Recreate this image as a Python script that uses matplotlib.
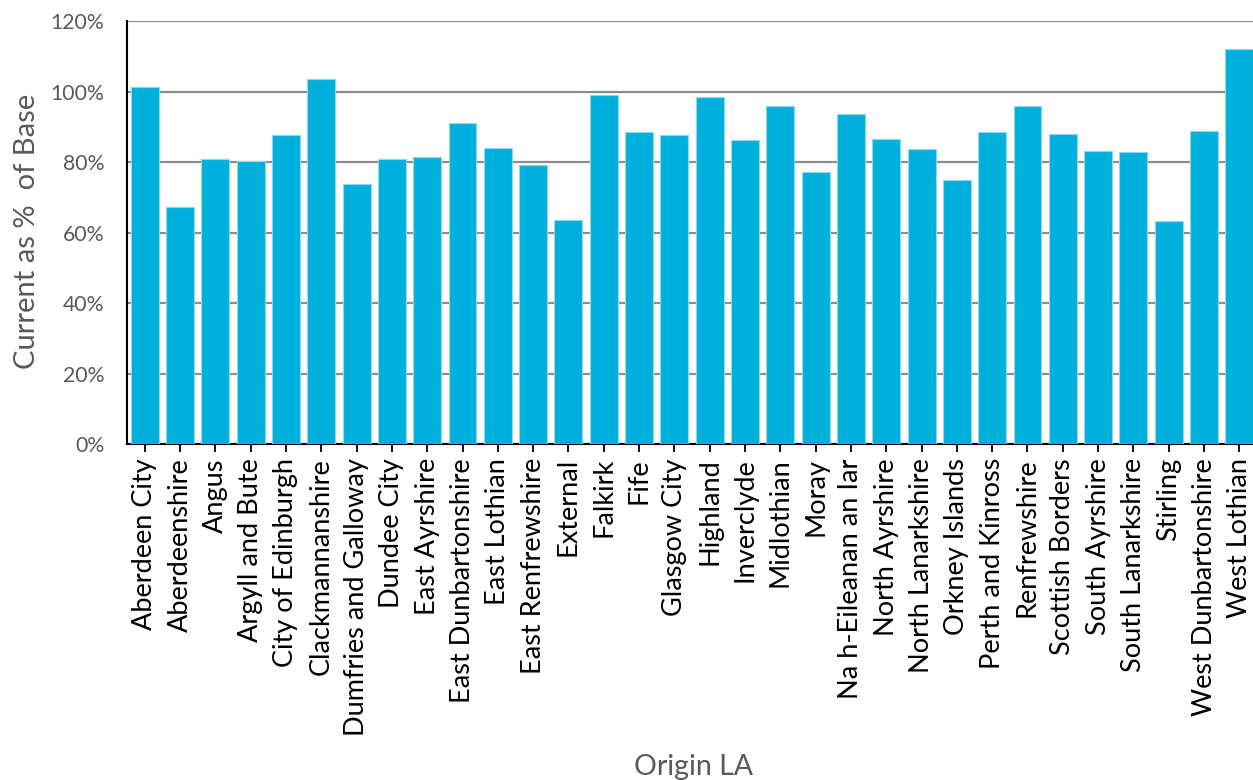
import matplotlib.pyplot as plt
from matplotlib.ticker import PercentFormatter

# Origin local authorities and current volume as % of base
areas = [
    'Aberdeen City', 'Aberdeenshire', 'Angus', 'Argyll and Bute',
    'City of Edinburgh', 'Clackmannanshire', 'Dumfries and Galloway',
    'Dundee City', 'East Ayrshire', 'East Dunbartonshire', 'East Lothian',
    'East Renfrewshire', 'External', 'Falkirk', 'Fife', 'Glasgow City',
    'Highland', 'Inverclyde', 'Midlothian', 'Moray', 'Na h-Eileanan an Iar',
    'North Ayrshire', 'North Lanarkshire', 'Orkney Islands',
    'Perth and Kinross', 'Renfrewshire', 'Scottish Borders', 'South Ayrshire',
    'South Lanarkshire', 'Stirling', 'West Dunbartonshire', 'West Lothian',
]
pct_of_base = [
    101.4, 67.4, 80.9, 80.4, 87.7, 103.6, 73.9, 81.0, 81.5, 91.2, 84.1,
    79.1, 63.6, 98.9, 88.5, 87.7, 98.4, 86.4, 95.8, 77.3, 93.5, 86.6,
    83.6, 74.9, 88.5, 95.9, 88.1, 83.1, 82.8, 63.2, 88.8, 112.1,
]

plt.rcParams['font.family'] = ['Lato', 'DejaVu Sans']

fig = plt.figure(figsize=(12.53, 7.80), dpi=100)
ax = fig.add_axes([0.1014, 0.4304, 0.9018, 0.5427])

x = range(len(areas))
ax.bar(x, pct_of_base, width=0.79, color='#00B0DC', edgecolor='#8fd8ee',
       linewidth=0.8, zorder=3)

ax.set_xlim(-0.5, len(areas) - 0.5)
ax.set_ylim(0, 120)
ax.set_yticks(range(0, 121, 20))
ax.yaxis.set_major_formatter(PercentFormatter(decimals=0))
ax.grid(axis='y', color='#8c8c8c', linewidth=1.6, zorder=0)

ax.set_xticks(list(x))
ax.set_xticklabels(areas, rotation=90, fontsize=19.5, color='black')
ax.tick_params(axis='x', direction='out', length=6, width=1.3, color='black', pad=4)
ax.tick_params(axis='y', length=0, labelsize=15.3, labelcolor='#595959', pad=16.5)

for side in ['top', 'right']:
    ax.spines[side].set_visible(False)
ax.spines['left'].set_linewidth(1.5)
ax.spines['bottom'].set_linewidth(1.5)
ax.spines['left'].set_color('black')
ax.spines['bottom'].set_color('black')

# axis titles placed in figure coords
fig.text(27 / 1253, 1 - 231.5 / 780, 'Current as %  of Base', rotation=90,
         ha='center', va='center', fontsize=21, color='#595959')
fig.text(694 / 1253, 1 - 754 / 780, 'Origin LA', ha='center', va='top',
         fontsize=20.5, color='#595959')

fig.savefig('out.png', dpi=100)
